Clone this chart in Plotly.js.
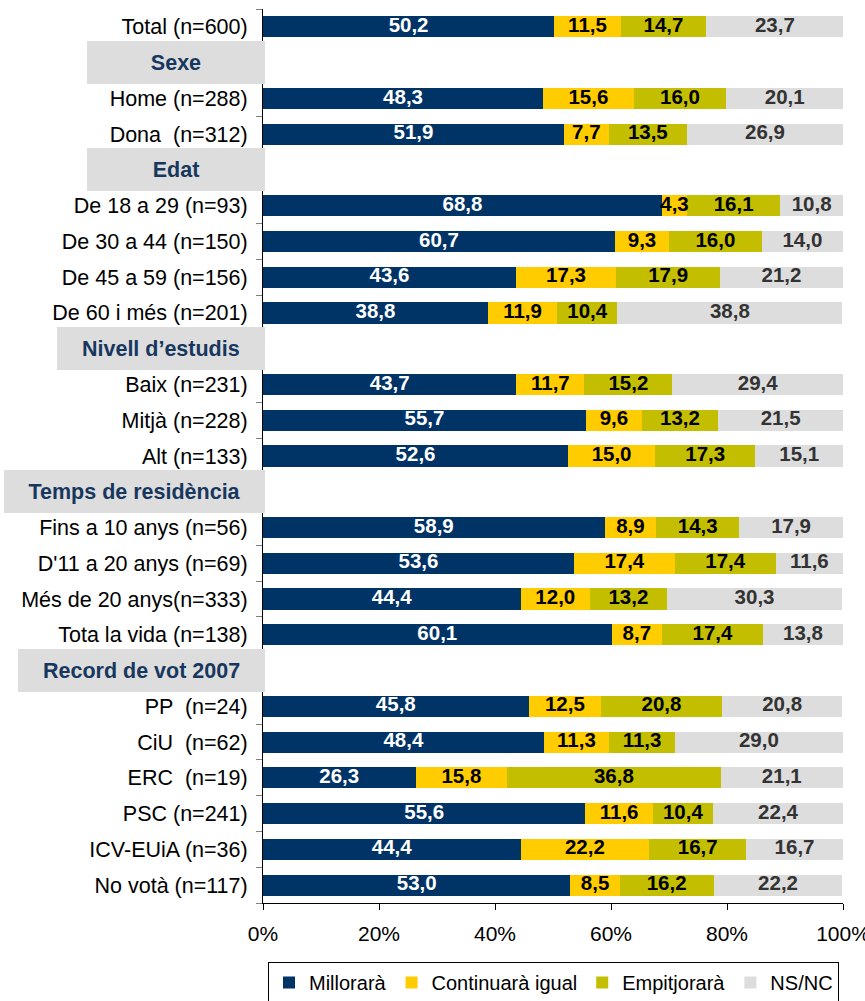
<!DOCTYPE html>
<html>
<head>
<meta charset="utf-8">
<script src="https://cdn.plot.ly/plotly-3.0.1.min.js"></script>
<style>html,body{margin:0;padding:0;background:#fff;}#chart{width:865px;height:1001px;}</style>
</head>
<body>
<div id="chart"></div>
<script>
// ---- DATA ----
const categories = [
  'Total (n=600)',
  'Sexe',
  'Home (n=288)',
  'Dona  (n=312)',
  'Edat',
  'De 18 a 29 (n=93)',
  'De 30 a 44 (n=150)',
  'De 45 a 59 (n=156)',
  'De 60 i més (n=201)',
  'Nivell d’estudis',
  'Baix (n=231)',
  'Mitjà (n=228)',
  'Alt (n=133)',
  'Temps de residència',
  'Fins a 10 anys (n=56)',
  'D\'11 a 20 anys (n=69)',
  'Més de 20 anys(n=333)',
  'Tota la vida (n=138)',
  'Record de vot 2007',
  'PP  (n=24)',
  'CiU  (n=62)',
  'ERC  (n=19)',
  'PSC (n=241)',
  'ICV-EUiA (n=36)',
  'No votà (n=117)'
];
const headers = ['Sexe', 'Edat', 'Nivell d’estudis', 'Temps de residència', 'Record de vot 2007'];

const seriesNames = ['Millorarà', 'Continuarà igual', 'Empitjorarà', 'NS/NC'];

const millorara = [50.2, null, 48.3, 51.9, null, 68.8, 60.7, 43.6, 38.8, null, 43.7, 55.7, 52.6, null, 58.9, 53.6, 44.4, 60.1, null, 45.8, 48.4, 26.3, 55.6, 44.4, 53.0];
const continuara = [11.5, null, 15.6, 7.7, null, 4.3, 9.3, 17.3, 11.9, null, 11.7, 9.6, 15.0, null, 8.9, 17.4, 12.0, 8.7, null, 12.5, 11.3, 15.8, 11.6, 22.2, 8.5];
const empitjorara = [14.7, null, 16.0, 13.5, null, 16.1, 16.0, 17.9, 10.4, null, 15.2, 13.2, 17.3, null, 14.3, 17.4, 13.2, 17.4, null, 20.8, 11.3, 36.8, 10.4, 16.7, 16.2];
const nsnc = [23.7, null, 20.1, 26.9, null, 10.8, 14.0, 21.2, 38.8, null, 29.4, 21.5, 15.1, null, 17.9, 11.6, 30.3, 13.8, null, 20.8, 29.0, 21.1, 22.4, 16.7, 22.2];

const xTicks = [0, 20, 40, 60, 80, 100];

// ---- STYLE ----
const FONT = '"Liberation Sans", Arial, Helvetica, sans-serif';
const FS = 21.5;
const colors = ['#003366', '#FFCC00', '#C3BF00', '#DDDDDD'];
const textColors = ['#FFFFFF', '#000000', '#000000', '#333333'];
const seriesValues = [millorara, continuara, empitjorara, nsnc];

const fmt = v => (v === null || v === undefined) ? '' : v.toFixed(1).replace('.', ',');

const barTraces = seriesValues.map((vals, i) => ({
  type: 'bar',
  orientation: 'h',
  name: seriesNames[i],
  y: categories,
  x: vals,
  marker: {color: colors[i], line: {width: 0}},
  hoverinfo: 'skip'
}));

// value labels drawn above all bars, centred in each segment
const labelTraces = seriesValues.map((vals, i) => ({
  type: 'scatter',
  mode: 'text',
  showlegend: false,
  y: categories,
  x: vals.map((v, k) => {
    if (v === null) return null;
    let base = 0;
    for (let j = 0; j < i; j++) base += seriesValues[j][k] || 0;
    return base + v / 2;
  }),
  text: vals.map(fmt),
  textposition: 'middle center',
  textfont: {family: FONT, size: 20.5, color: textColors[i], weight: 'bold'},
  cliponaxis: false,
  hoverinfo: 'skip'
}));

// measure header text widths for box sizing
const cv = document.createElement('canvas').getContext('2d');
cv.font = 'bold ' + FS + 'px ' + FONT;

const W = 865, H = 1001;
const margin = {l: 263, r: 22, t: 9, b: 98, autoexpand: false};
const plotW = W - margin.l - margin.r;
const plotH = H - margin.t - margin.b;

const annotations = headers.map(h => {
  const tw = cv.measureText(h).width;
  const bw = Math.max(178, tw + 50);
  return {
    xref: 'paper', yref: 'y',
    x: 2 / plotW, y: h,
    xanchor: 'right', yanchor: 'middle',
    text: '<b>' + h + '</b>',
    showarrow: false,
    width: bw, height: 43,
    bgcolor: '#DDDDDD',
    borderpad: 0, borderwidth: 0,
    align: 'center', valign: 'middle',
    font: {family: FONT, size: FS, color: '#17375E'}
  };
});

const layout = {
  width: W, height: H,
  margin: margin,
  barmode: 'stack',
  bargap: 0.41,
  paper_bgcolor: '#FFFFFF',
  plot_bgcolor: '#FFFFFF',
  showlegend: true,
  font: {family: FONT, size: FS, color: '#000000'},
  xaxis: {
    range: [0, 100],
    tickmode: 'array',
    tickvals: xTicks,
    ticktext: xTicks.map(v => v + '%'),
    ticks: 'outside', ticklen: 6, tickcolor: '#000000', tickwidth: 1,
    ticklabelstandoff: 6,
    ticklabeloverflow: 'allow',
    showline: true, linecolor: '#000000', linewidth: 1,
    showgrid: false, zeroline: false,
    tickfont: {family: FONT, size: 21, color: '#000000'},
    fixedrange: true
  },
  yaxis: {
    type: 'category',
    categoryorder: 'array',
    categoryarray: categories,
    autorange: false,
    range: [categories.length - 0.5, -0.5],
    tickmode: 'array',
    tickvals: categories,
    ticktext: categories.map(c => headers.includes(c) ? '' : c),
    tickson: 'boundaries',
    ticks: 'outside', ticklen: 6, tickcolor: '#808080', tickwidth: 1,
    ticklabelstandoff: 10,
    showline: true, linecolor: '#000000', linewidth: 1,
    showgrid: false, zeroline: false,
    tickfont: {family: FONT, size: FS, color: '#000000'},
    fixedrange: true
  },
  legend: {
    orientation: 'h',
    x: 5 / plotW, xanchor: 'left',
    y: -59 / plotH, yanchor: 'top',
    bordercolor: '#000000', borderwidth: 1,
    bgcolor: '#FFFFFF',
    font: {family: FONT, size: 20, color: '#000000'},
    traceorder: 'normal'
  },
  annotations: annotations
};

Plotly.newPlot('chart', barTraces.concat(labelTraces), layout, {staticPlot: true, displayModeBar: false});
</script>
</body>
</html>
